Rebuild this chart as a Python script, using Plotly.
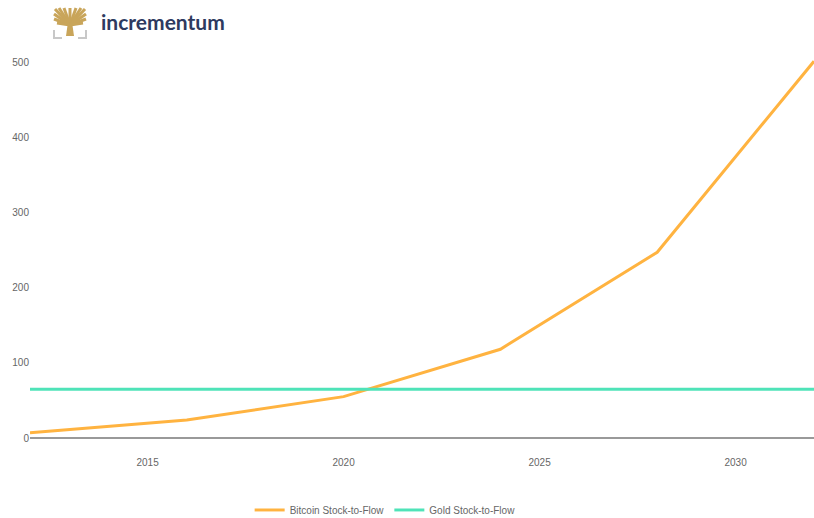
import plotly.graph_objects as go

years = [2012, 2016, 2020, 2024, 2028, 2032]
btc_s2f = [7, 24, 55, 118, 247, 501]
gold_years = [2012, 2032]
gold_s2f = [65, 65]

L, R, T, B = 30, 0, 47, 80
W, H = 814, 518
pw, ph = W - L - R, H - T - B

def px(x):
    return (x - L) / pw

def py(y):
    return (H - B - y) / ph

fig = go.Figure()
fig.add_trace(go.Scatter(x=years, y=btc_s2f, mode="lines", name="Bitcoin Stock-to-Flow",
                         line=dict(color="#FFB340", width=3)))
fig.add_trace(go.Scatter(x=gold_years, y=gold_s2f, mode="lines", name="Gold Stock-to-Flow",
                         line=dict(color="#4FE3B8", width=3)))

shapes = []
gold = "#C9A55A"
# tree trunk
shapes.append(dict(type="path", xref="paper", yref="paper",
                   path=f"M {px(66)} {py(36)} L {px(74)} {py(36)} L {px(72)} {py(22)} L {px(68)} {py(22)} Z",
                   fillcolor=gold, line=dict(width=0)))
# branches
for x0, y0 in [(55, 9), (59, 8), (64, 8), (70, 8), (76, 8), (81, 8), (85, 9), (54, 14), (86, 14), (54, 19), (86, 19), (57, 23), (83, 23)]:
    shapes.append(dict(type="line", xref="paper", yref="paper",
                       x0=px(70), y0=py(25), x1=px(x0), y1=py(y0),
                       line=dict(color=gold, width=3)))
# gray brackets
shapes.append(dict(type="path", xref="paper", yref="paper",
                   path=f"M {px(54)} {py(30)} L {px(54)} {py(38)} L {px(62)} {py(38)}",
                   line=dict(color="#C8C8C8", width=2)))
shapes.append(dict(type="path", xref="paper", yref="paper",
                   path=f"M {px(86)} {py(30)} L {px(86)} {py(38)} L {px(78)} {py(38)}",
                   line=dict(color="#C8C8C8", width=2)))

fig.update_layout(
    width=W, height=H,
    margin=dict(l=L, r=R, t=T, b=B, autoexpand=False),
    paper_bgcolor="white", plot_bgcolor="white",
    font=dict(family="Liberation Sans, Arial, sans-serif", size=11, color="#666666"),
    shapes=shapes,
    annotations=[dict(text="<b>incrementum</b>", xref="paper", yref="paper",
                      x=px(99), y=py(22), xanchor="left", yanchor="middle",
                      showarrow=False,
                      font=dict(family="Lato, Open Sans, sans-serif", size=21, color="#2E3A5F"))],
    xaxis=dict(range=[2012, 2032], showgrid=False, zeroline=False, showline=False,
               tickvals=[2015, 2020, 2025, 2030], ticks="", ticklabelstandoff=17,
               tickfont=dict(size=10, color="#666666")),
    yaxis=dict(range=[0, 520], showgrid=False, zeroline=True, zerolinecolor="#999999",
               zerolinewidth=2, showline=False, tickvals=[0, 100, 200, 300, 400, 500],
               ticks="", tickfont=dict(size=10, color="#666666")),
    legend=dict(orientation="h", x=0.453, xanchor="center", y=-0.184, yanchor="middle",
                font=dict(size=10, color="#666666")),
    showlegend=True,
)

fig.write_html("out.html", config={"displayModeBar": False},
               post_script="document.body.style.margin='0px';")
